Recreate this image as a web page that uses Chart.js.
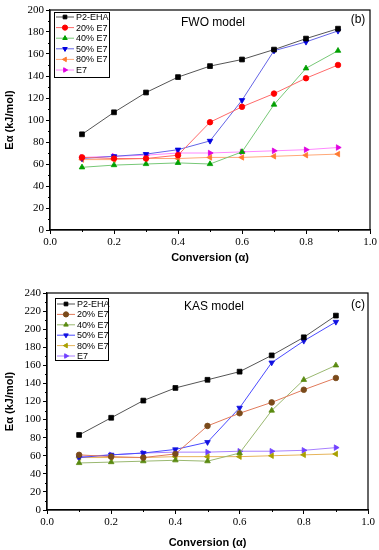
<!DOCTYPE html>
<html>
<head>
<meta charset="utf-8">
<script src="https://cdn.jsdelivr.net/npm/chart.js@4/dist/chart.umd.min.js"></script>
<style>
  html, body { margin: 0; padding: 0; background: #fff; }
  #wrap { position: relative; width: 379px; height: 550px; overflow: hidden; }
  .box { position: absolute; left: 0; width: 379px; }
</style>
</head>
<body>
<div id="wrap">
  <div class="box" style="top:0;height:265px;"><canvas id="c1"></canvas></div>
  <div class="box" style="top:270px;height:280px;"><canvas id="c2"></canvas></div>
</div>
<script>
// ---- data ----
const conversion = [0.1, 0.2, 0.3, 0.4, 0.5, 0.6, 0.7, 0.8, 0.9];
const seriesNames = ['P2-EHA', '20% E7', '40% E7', '50% E7', '80% E7', 'E7'];
const xTicks = [0.0, 0.2, 0.4, 0.6, 0.8, 1.0];

// FWO model (b)
const fwoP2EHA = [87, 107, 125, 139, 149, 155, 164, 174, 183];
const fwo20 = [66, 65, 65, 68, 98, 112, 124, 138, 150];
const fwo40 = [57, 59, 60, 61, 60, 71, 114, 147, 163];
const fwo50 = [65, 67, 69, 73, 81, 118, 163, 171, 181];
const fwo80 = [64, 64, 65, 65, 66, 66, 67, 68, 69];
const fwoE7 = [66, 67, 68, 70, 70, 71, 72, 73, 75];

// KAS model (c)
const kasP2EHA = [83, 102, 121, 135, 144, 153, 171, 191, 215];
const kas20 = [61, 59, 58, 62, 93, 107, 119, 133, 146];
const kas40 = [52, 53, 54, 55, 54, 63, 110, 144, 160];
const kas50 = [58, 61, 63, 67, 75, 113, 163, 187, 208];
const kas80 = [58, 58, 58, 59, 59, 59, 60, 61, 62];
const kasE7 = [59, 61, 63, 64, 64, 65, 65, 66, 69];

// ---- styles ----
const pointStyles = [
  {style: 'rect', rot: 0, r: 3.4},
  {style: 'circle', rot: 0, r: 2.8},
  {style: 'triangle', rot: 0, r: 3.2},
  {style: 'triangle', rot: 180, r: 3.2},
  {style: 'triangle', rot: 270, r: 3.2},
  {style: 'triangle', rot: 90, r: 3.2}
];
const fwoLine = ['#555555', '#ff6a6a', '#77c877', '#6464e6', '#ffa878', '#ff88ff'];
const fwoMark = ['#000000', '#ff0000', '#00a000', '#0000e0', '#ff7a30', '#e000e0'];
const kasLine = ['#555555', '#e07a5a', '#9ab870', '#4a4aff', '#e6b45a', '#a880ff'];
const kasMark = ['#000000', '#7a4a1a', '#5a8a10', '#1010e0', '#a8a000', '#7040ff'];

function mkDatasets(arrs, lineC, markC) {
  return arrs.map((vals, i) => ({
    label: seriesNames[i],
    data: conversion.map((c, j) => ({x: c, y: vals[j]})),
    borderColor: lineC[i],
    backgroundColor: markC[i],
    pointBackgroundColor: markC[i],
    pointBorderColor: markC[i],
    pointBorderWidth: 0.8,
    borderWidth: 1,
    pointStyle: pointStyles[i].style,
    rotation: pointStyles[i].rot,
    pointRadius: pointStyles[i].r,
    tension: 0
  }));
}

const decorPlugin = {
  id: 'decor',
  afterDraw(chart, args, opts) {
    const ctx = chart.ctx;
    const a = chart.chartArea;
    const xs = chart.scales.x, ys = chart.scales.y;
    ctx.save();
    // frame
    ctx.strokeStyle = '#000';
    ctx.lineWidth = 1.2;
    ctx.strokeRect(a.left, a.top, a.right - a.left, a.bottom - a.top);
    // minor ticks
    ctx.lineWidth = 1;
    ctx.beginPath();
    for (let v = opts.yMinor; v < ys.max; v += opts.yMinor * 2) {
      const p = Math.round(ys.getPixelForValue(v)) + 0.5;
      ctx.moveTo(a.left - 2, p); ctx.lineTo(a.left, p);
    }
    for (let v = 0.1; v < 1; v += 0.2) {
      const p = Math.round(xs.getPixelForValue(v)) + 0.5;
      ctx.moveTo(p, a.bottom); ctx.lineTo(p, a.bottom + 2);
    }
    ctx.stroke();
    // titles
    ctx.fillStyle = '#000';
    ctx.textBaseline = 'middle';
    ctx.textAlign = 'center';
    ctx.font = '12px "Liberation Sans", Arial, sans-serif';
    ctx.fillText(opts.title, opts.titleX, opts.titleY);
    ctx.fillText(opts.tag, opts.tagX, opts.tagY);
    // legend
    const L = opts.legend;
    ctx.lineWidth = 1;
    ctx.strokeStyle = '#000';
    ctx.strokeRect(L.x + 0.5, L.y + 0.5, L.w, L.h);
    ctx.font = '9px "Liberation Sans", Arial, sans-serif';
    ctx.textAlign = 'left';
    chart.data.datasets.forEach((ds, i) => {
      const yy = L.y + L.first + i * L.step;
      ctx.strokeStyle = ds.borderColor;
      ctx.beginPath();
      ctx.moveTo(L.x + 2, yy); ctx.lineTo(L.x + 20, yy);
      ctx.stroke();
      ctx.fillStyle = ds.pointBackgroundColor;
      ctx.strokeStyle = ds.pointBorderColor;
      Chart.helpers.drawPoint(ctx, {pointStyle: ds.pointStyle, rotation: ds.rotation, radius: 2.6, borderWidth: 0.8}, L.x + 11, yy);
      ctx.fillStyle = '#000';
      ctx.fillText(ds.label, L.x + 22, yy + 0.5);
    });
    ctx.restore();
  }
};

function mkConfig(datasets, yMax, yTitle, yWidth, xHeight, pad, decor) {
  return {
    type: 'line',
    data: {datasets},
    plugins: [decorPlugin],
    options: {
      responsive: true,
      maintainAspectRatio: false,
      animation: false,
      layout: {padding: pad},
      plugins: {legend: {display: false}, tooltip: {enabled: false}, decor},
      scales: {
        x: {
          type: 'linear', min: 0, max: 1,
          afterBuildTicks: s => { s.ticks = xTicks.map(v => ({value: v})); },
          ticks: {
            callback: v => Number(v).toFixed(1),
            font: {family: '"Liberation Serif", "Times New Roman", serif', size: 11},
            color: '#000', padding: 2, maxRotation: 0, autoSkip: false
          },
          grid: {drawOnChartArea: false, drawTicks: true, tickLength: 4, color: '#000'},
          border: {display: true, color: '#000', width: 1.2},
          title: {display: true, text: 'Conversion (α)', color: '#000',
                  font: {family: '"Liberation Sans", Arial, sans-serif', size: 11, weight: 'bold'},
                  padding: {top: 2, bottom: 0}},
          afterFit: s => { s.height = xHeight; }
        },
        y: {
          min: 0, max: yMax,
          ticks: {
            stepSize: 20,
            font: {family: '"Liberation Serif", "Times New Roman", serif', size: 11},
            color: '#000', padding: 2
          },
          grid: {drawOnChartArea: false, drawTicks: true, tickLength: 4, color: '#000'},
          border: {display: true, color: '#000', width: 1.2},
          title: {display: true, text: yTitle, color: '#000',
                  font: {family: '"Liberation Sans", Arial, sans-serif', size: 11, weight: 'bold'},
                  padding: {top: 3, bottom: 0}},
          afterFit: s => { s.width = yWidth; }
        }
      }
    }
  };
}

new Chart(document.getElementById('c1'), mkConfig(
  mkDatasets([fwoP2EHA, fwo20, fwo40, fwo50, fwo80, fwoE7], fwoLine, fwoMark),
  200, 'Eα (kJ/mol)', 50, 35, {top: 10, right: 9, left: 0, bottom: 0},
  {yMinor: 10, title: 'FWO model', titleX: 213, titleY: 23, tag: '(b)', tagX: 358, tagY: 20,
   legend: {x: 54, y: 12, w: 55, h: 65, first: 5, step: 10.6}}
));

new Chart(document.getElementById('c2'), mkConfig(
  mkDatasets([kasP2EHA, kas20, kas40, kas50, kas80, kasE7], kasLine, kasMark),
  240, 'Eα (kJ/mol)', 47, 40, {top: 23, right: 11, left: 0, bottom: 0},
  {yMinor: 10, title: 'KAS model', titleX: 214, titleY: 37, tag: '(c)', tagX: 358, tagY: 35,
   legend: {x: 55, y: 28, w: 53, h: 62, first: 6, step: 10.4}}
));
</script>
</body>
</html>
